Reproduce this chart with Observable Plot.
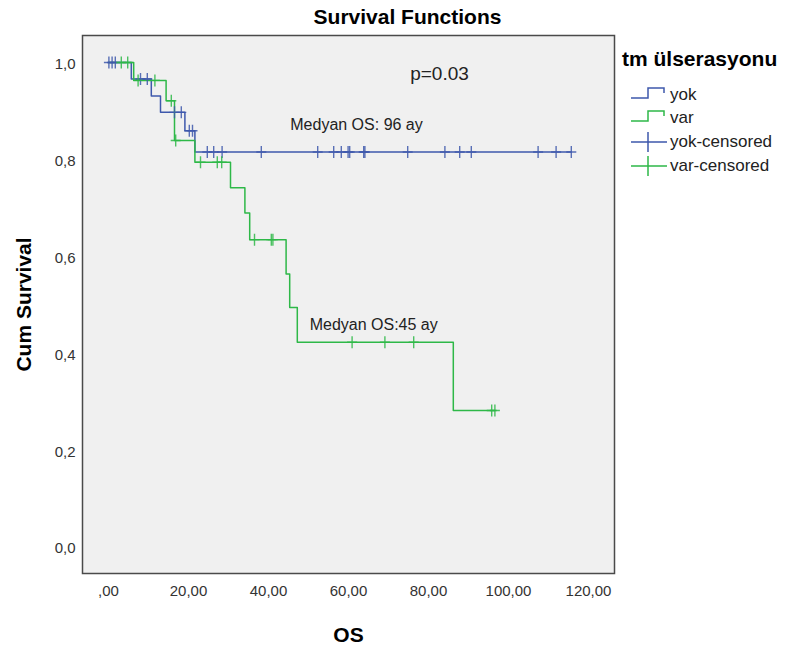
<!DOCTYPE html>
<html><head><meta charset="utf-8">
<script src="https://cdn.jsdelivr.net/npm/d3@7"></script>
<script src="https://cdn.jsdelivr.net/npm/@observablehq/plot@0.6"></script>
<style>
body{margin:0;background:#fff;font-family:"Liberation Sans",Arial,sans-serif}
#wrap{position:relative;width:787px;height:651px;overflow:hidden}
#legend{position:absolute;left:0;top:0;width:787px;height:651px;pointer-events:none}
.lt{position:absolute;left:622px;top:48px;font-size:21px;font-weight:bold;color:#000;line-height:21px;white-space:nowrap}
.li{position:absolute;left:670px;font-size:17px;color:#222;line-height:17px;white-space:nowrap}
.ic{position:absolute;left:629px}
</style></head><body><div id="wrap"></div>
<script>
// ---- data ----
const groups = ["yok", "var"];
const groupColors = ["#3e58ac", "#2eb848"];
const legendLabels = ["yok", "var", "yok-censored", "var-censored"];

const yokEventTimes = [5.7, 10.7, 13.0, 19.1, 21.6];
const yokSurvival   = [0.966, 0.931, 0.897, 0.859, 0.815];
const yokCensorTimes = [0.1, 0.9, 1.7, 8.0, 9.7, 16.5, 18.2, 20.2, 21.0, 24.7, 26.3, 28.4, 38.2,
  52.3, 56.3, 58.2, 59.9, 60.3, 63.8, 64.1, 74.8, 84.1, 87.8, 90.7, 107.4, 111.9, 115.7];

const varEventTimes = [6.3, 14.4, 16.5, 21.6, 30.5, 34.1, 35.3, 44.4, 45.3, 47.2, 86.2];
const varSurvival   = [0.963, 0.921, 0.839, 0.794, 0.741, 0.689, 0.634, 0.563, 0.494, 0.422, 0.281];
const varCensorTimes = [3.2, 4.8, 7.4, 11.6, 15.7, 16.8, 23.0, 27.2, 28.3, 36.5, 40.7, 41.1,
  60.9, 69.1, 76.3, 95.8, 96.6];

const xTicks = [0, 20, 40, 60, 80, 100, 120];
const yTicks = [0, 0.2, 0.4, 0.6, 0.8, 1.0];

const annotations = [
  {t: 82.75, s: 0.977, label: "p=0.03", size: 19},
  {t: 62, s: 0.872, label: "Medyan OS: 96 ay", size: 16},
  {t: 66.3, s: 0.457, label: "Medyan OS:45 ay", size: 16}
];

// ---- build series ----
function survAt(times, surv, t) {
  let s = 1;
  for (let i = 0; i < times.length; i++) if (times[i] <= t) s = surv[i];
  return s;
}
function stepData(times, surv, censors) {
  const pts = [{t: 0, s: 1}];
  times.forEach((t, i) => pts.push({t, s: surv[i]}));
  const end = Math.max(...censors, ...times);
  pts.push({t: end, s: survAt(times, surv, end)});
  return pts;
}
const series = {
  yok: {line: stepData(yokEventTimes, yokSurvival, yokCensorTimes),
        cens: yokCensorTimes.map(t => ({t, s: survAt(yokEventTimes, yokSurvival, t)}))},
  var: {line: stepData(varEventTimes, varSurvival, varCensorTimes),
        cens: varCensorTimes.map(t => ({t, s: survAt(varEventTimes, varSurvival, t)}))}
};

const plusSymbol = {
  draw(ctx) { ctx.moveTo(0, -6); ctx.lineTo(0, 6); ctx.moveTo(-5, 0); ctx.lineTo(5, 0); }
};

const marks = [
  Plot.frame({fill: "#f0f0f0", stroke: "none"})
];
groups.forEach((g, i) => {
  marks.push(Plot.line(series[g].line, {x: "t", y: "s", curve: "step-after", stroke: groupColors[i], strokeWidth: 1.5}));
});
groups.forEach((g, i) => {
  marks.push(Plot.dot(series[g].cens, {x: "t", y: "s", symbol: plusSymbol, stroke: groupColors[i], fill: "none", strokeWidth: 1.4, strokeOpacity: 0.85}));
});
annotations.forEach(a => {
  marks.push(Plot.text([a], {x: "t", y: "s", text: "label", fontSize: a.size, fill: "#222", textAnchor: "middle", lineAnchor: "middle"}));
});
marks.push(
  Plot.frame({stroke: "#4a4a4a", strokeWidth: 1.5}),
  Plot.axisX(xTicks, {tickSize: 0, tickPadding: 12, fontSize: 15, fill: "#333",
    tickFormat: d => d === 0 ? ",00" : d.toFixed(2).replace(".", ","), label: null}),
  Plot.axisY(yTicks, {tickSize: 0, tickPadding: 7, fontSize: 15, fill: "#333", dy: 2,
    tickFormat: d => d.toFixed(1).replace(".", ","), label: null}),
  Plot.text(["Survival Functions"], {frameAnchor: "top", dx: 59, dy: -18, textAnchor: "middle", lineAnchor: "middle", fontSize: 21, fontWeight: "bold", fill: "#000"}),
  Plot.text(["OS"], {frameAnchor: "bottom", dy: 62, textAnchor: "middle", lineAnchor: "middle", fontSize: 21, fontWeight: "bold", fill: "#000"}),
  Plot.text(["Cum Survival"], {frameAnchor: "left", dx: -58, rotate: -90, textAnchor: "middle", lineAnchor: "middle", fontSize: 21, fontWeight: "bold", fill: "#000"})
);

const chart = Plot.plot({
  width: 787, height: 651,
  marginLeft: 82, marginRight: 173, marginTop: 35, marginBottom: 78,
  x: {domain: [-6.5, 126.5]},
  y: {domain: [-0.0558, 1.0558]},
  style: {fontFamily: "'Liberation Sans', Arial, sans-serif", fontSize: "15px", background: "#fff", color: "#333"},
  marks
});
const wrap = document.getElementById("wrap");
wrap.appendChild(chart);

// ---- legend ----
const leg = document.createElement("div");
leg.id = "legend";
let html = `<div class="lt">tm ülserasyonu</div>`;
const rowY = [95, 118, 142, 166];
legendLabels.forEach((lab, i) => {
  const col = groupColors[i % 2];
  const y = rowY[i];
  let icon;
  if (i < 2) {
    icon = `<svg class="ic" style="top:${y-12}px" width="40" height="24"><path d="M2,15H19V5H35V10" fill="none" stroke="${col}" stroke-width="1.5"/></svg>`;
  } else {
    icon = `<svg class="ic" style="top:${y-12}px" width="40" height="24"><path d="M2,12H38M19,2V22" fill="none" stroke="${col}" stroke-width="1.5"/></svg>`;
  }
  html += icon + `<div class="li" style="top:${y-9}px">${lab}</div>`;
});
leg.innerHTML = html;
wrap.appendChild(leg);
</script>
</body></html>
